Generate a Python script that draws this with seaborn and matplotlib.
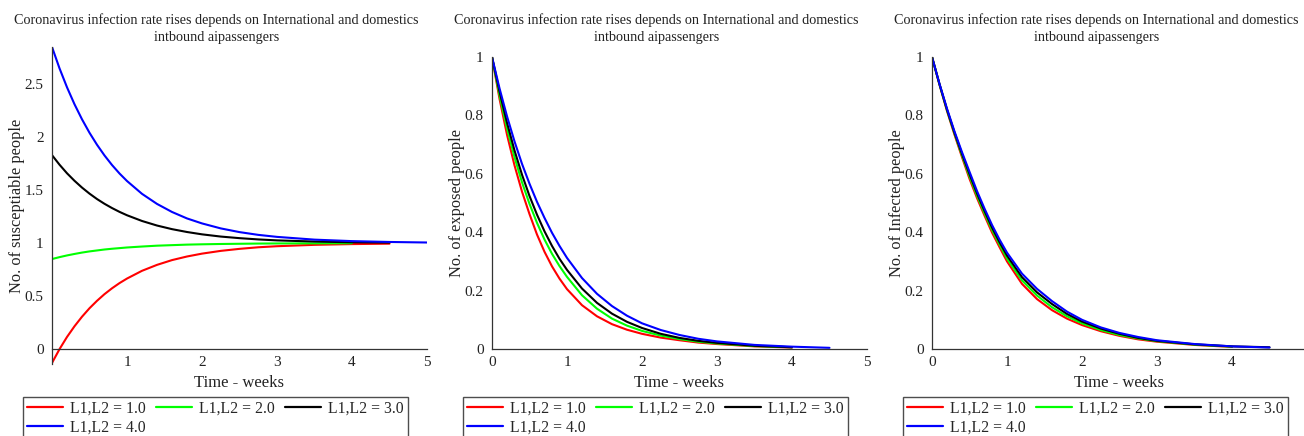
import numpy as np
import pandas as pd
import matplotlib
matplotlib.use("Agg")
import matplotlib.pyplot as plt
import seaborn as sns
from matplotlib.ticker import FixedLocator, MultipleLocator

sns.set_style("white")
plt.rcParams['font.family'] = ['Liberation Serif', 'DejaVu Serif']

# time axis (weeks) shared by every curve
t_weeks = [0, 0.1, 0.2, 0.3, 0.4, 0.5, 0.6, 0.7, 0.8, 0.9, 1.0, 1.2, 1.4, 1.6,
           1.8, 2.0, 2.25, 2.5, 2.75, 3.0, 3.5, 4.0, 4.5, 5.0]
cases = ["L1,L2 = 1.0", "L1,L2 = 2.0", "L1,L2 = 3.0", "L1,L2 = 4.0"]
case_colors = ["#ff0000", "#00ff00", "#000000", "#0000ff"]
nan = np.nan

# susceptible people
sus_1 = [-0.13, 0.0, 0.115, 0.216, 0.306, 0.386, 0.456, 0.519, 0.574, 0.623, 0.666, 0.739,
         0.795, 0.840, 0.874, 0.901, 0.927, 0.946, 0.961, 0.971, 0.984, 0.991, 0.995, nan]
sus_2 = [0.85, 0.868, 0.884, 0.898, 0.911, 0.922, 0.931, 0.940, 0.947, 0.953, 0.959, 0.968,
         0.976, 0.981, 0.986, 0.989, 0.992, 0.994, 0.996, 0.997, 0.998, 0.999, nan, nan]
sus_3 = [1.83, 1.740, 1.659, 1.588, 1.524, 1.467, 1.416, 1.371, 1.331, 1.295, 1.263, 1.209,
         1.166, 1.132, 1.105, 1.083, 1.062, 1.047, 1.035, 1.026, 1.015, 1.008, 1.005, nan]
sus_4 = [2.85, 2.649, 2.470, 2.310, 2.168, 2.041, 1.928, 1.827, 1.737, 1.657, 1.586, 1.465,
         1.370, 1.294, 1.233, 1.186, 1.139, 1.104, 1.078, 1.059, 1.033, 1.019, 1.011, 1.006]

# exposed people
exp_1 = [1.0, 0.857, 0.734, 0.629, 0.539, 0.462, 0.392, 0.333, 0.283, 0.241, 0.205, 0.150,
         0.112, 0.085, 0.066, 0.052, 0.039, 0.030, 0.022, 0.017, 0.009, 0.005, nan, nan]
exp_2 = [1.0, 0.869, 0.756, 0.657, 0.571, 0.497, 0.432, 0.375, 0.326, 0.284, 0.247, 0.184,
         0.138, 0.104, 0.080, 0.062, 0.046, 0.034, 0.025, 0.019, 0.010, 0.006, nan, nan]
exp_3 = [1.0, 0.882, 0.775, 0.680, 0.597, 0.524, 0.460, 0.403, 0.353, 0.309, 0.271, 0.207,
         0.158, 0.121, 0.093, 0.072, 0.052, 0.038, 0.028, 0.021, 0.011, 0.006, nan, nan]
exp_4 = [1.0, 0.893, 0.797, 0.711, 0.634, 0.566, 0.504, 0.449, 0.398, 0.353, 0.312, 0.243,
         0.189, 0.147, 0.114, 0.088, 0.065, 0.048, 0.035, 0.026, 0.014, 0.008, 0.004, nan]

# infected people
inf_1 = [1.0, 0.905, 0.815, 0.734, 0.657, 0.583, 0.517, 0.457, 0.399, 0.349, 0.300, 0.223,
         0.171, 0.133, 0.104, 0.082, 0.061, 0.045, 0.033, 0.025, 0.014, 0.007, nan, nan]
inf_2 = [1.0, 0.906, 0.818, 0.738, 0.663, 0.591, 0.525, 0.465, 0.408, 0.358, 0.310, 0.235,
         0.183, 0.143, 0.112, 0.088, 0.065, 0.048, 0.036, 0.027, 0.015, 0.008, nan, nan]
inf_3 = [1.0, 0.907, 0.820, 0.741, 0.668, 0.599, 0.533, 0.473, 0.416, 0.366, 0.320, 0.246,
         0.194, 0.154, 0.120, 0.094, 0.070, 0.052, 0.038, 0.028, 0.016, 0.009, 0.006, nan]
inf_4 = [1.0, 0.908, 0.823, 0.745, 0.674, 0.607, 0.541, 0.481, 0.425, 0.375, 0.330, 0.258,
         0.206, 0.164, 0.128, 0.100, 0.074, 0.055, 0.041, 0.030, 0.017, 0.009, 0.005, nan]

title_1 = "Coronavirus infection rate rises depends on International and domestics"
title_2 = "intbound aipassengers"
xlabel = "Time - weeks"

panels = [
    dict(series=[sus_1, sus_2, sus_3, sus_4], ylabel="No. of susceptiable people",
         rect=(52, 47, 427, 364), ylim=(-0.14, 2.85),
         yticks=[0, 0.5, 1, 1.5, 2, 2.5], ylabels=["0", "0.5", "1", "1.5", "2", "2.5"],
         xticks=[1, 2, 3, 4, 5]),
    dict(series=[exp_1, exp_2, exp_3, exp_4], ylabel="No. of exposed people",
         rect=(492, 57, 867, 349), ylim=(0, 1),
         yticks=[0, 0.2, 0.4, 0.6, 0.8, 1], ylabels=["0", "0.2", "0.4", "0.6", "0.8", "1"],
         xticks=[0, 1, 2, 3, 4, 5]),
    dict(series=[inf_1, inf_2, inf_3, inf_4], ylabel="No. of Infected people",
         rect=(932, 57, 1307, 349), ylim=(0, 1),
         yticks=[0, 0.2, 0.4, 0.6, 0.8, 1], ylabels=["0", "0.2", "0.4", "0.6", "0.8", "1"],
         xticks=[0, 1, 2, 3, 4, 5]),
]

W, H = 1304, 436
fig = plt.figure(figsize=(W / 100, H / 100), dpi=100)

for p in panels:
    l, t, r, b = p["rect"]
    ax = fig.add_axes([l / W, (H - b) / H, (r - l) / W, (b - t) / H])

    df = pd.DataFrame({
        "t": t_weeks * 4,
        "value": sum(p["series"], []),
        "case": [c for c in cases for _ in t_weeks],
    }).dropna()
    sns.lineplot(data=df, x="t", y="value", hue="case", hue_order=cases,
                 palette=case_colors, estimator=None, linewidth=1.5, ax=ax)

    ax.set_xlim(0, 5)
    ax.set_ylim(*p["ylim"])
    ax.spines["top"].set_visible(False)
    ax.spines["right"].set_visible(False)
    for s in ["left", "bottom"]:
        ax.spines[s].set_color("#333333")
        ax.spines[s].set_linewidth(0.9)
    if p["ylim"][0] < 0:
        ax.spines["bottom"].set_position(("data", 0))

    ax.xaxis.set_major_locator(FixedLocator(p["xticks"]))
    ax.set_xticklabels([str(v) for v in p["xticks"]])
    ax.xaxis.set_minor_locator(MultipleLocator(0.5))
    ax.yaxis.set_major_locator(FixedLocator(p["yticks"]))
    ax.set_yticklabels(p["ylabels"])
    ax.yaxis.set_minor_locator(MultipleLocator(0.1))
    ax.tick_params(which="major", direction="in", length=4, width=0.8,
                   color="#333333", labelsize=11, labelcolor="#222222")
    ax.tick_params(which="minor", direction="in", length=2.5, width=0.7, color="#333333")
    ax.tick_params(axis="x", pad=5)
    ax.tick_params(axis="y", pad=6)

    ax.set_xlabel(xlabel, fontsize=12, color="#222222", va="center")
    ax.xaxis.set_label_coords(0.5, (b - 383) / (b - t))
    ax.set_ylabel(p["ylabel"], fontsize=11.8, color="#222222", va="center")
    ax.yaxis.set_label_coords(-0.093, 0.5)

    cx = (l + r) / 2 - 23
    fig.text(cx / W, 1 - 20 / H, title_1, ha="center", va="center", fontsize=10.2, color="#222222")
    fig.text(cx / W, 1 - 38 / H, title_2, ha="center", va="center", fontsize=10.2, color="#222222")

    # legend rows read 1.0 2.0 3.0 / 4.0, matplotlib fills columns first
    handles, labels = ax.get_legend_handles_labels()
    ax.get_legend().remove()
    order = [0, 3, 1, 2]
    leg = ax.legend([handles[i] for i in order], [labels[i] for i in order],
                    ncol=3, loc="upper left", mode="expand",
                    bbox_to_anchor=((l - 29) / W, 1 - 397 / H, 385 / W, 0),
                    bbox_transform=fig.transFigure, borderaxespad=0,
                    fontsize=11.3, handlelength=2.3, handletextpad=0.45,
                    columnspacing=0.5, labelspacing=0.15, borderpad=0.25,
                    frameon=True, fancybox=False, edgecolor="#222222")
    leg.get_frame().set_linewidth(1.0)
    for ln in leg.get_lines():
        ln.set_linewidth(1.6)

fig.savefig("out.png", dpi=100)
